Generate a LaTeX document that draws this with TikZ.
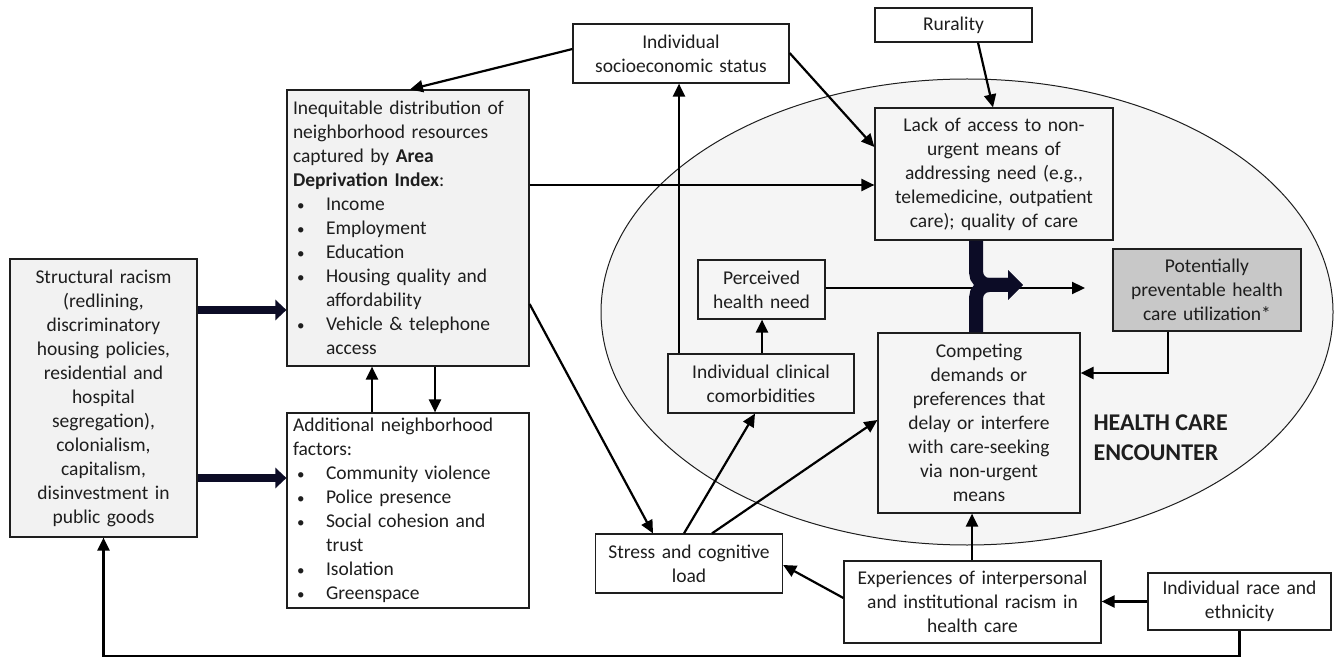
\documentclass[tikz,border=0pt]{standalone}
\usepackage{fontspec}
\setmainfont{Carlito}
\usepackage{tikz}
\usetikzlibrary{arrows.meta, calc}
\definecolor{mydark}{RGB}{30,30,30}
\definecolor{boxgray}{RGB}{242,242,242}
\definecolor{encfill}{RGB}{245,245,245}
\definecolor{ppugray}{RGB}{200,200,200}
\definecolor{navyblk}{RGB}{12,12,38}
\newcommand{\bodysize}{\fontsize{19.5}{24}\selectfont}
\newcommand{\itm}[1]{\makebox[33pt][l]{\hspace*{4pt}{\fontsize{15}{24}\selectfont\textbullet}}#1}
\newcommand{\itmc}[1]{\hspace*{33pt}#1}
\tikzset{
  box/.style={rectangle, draw=mydark, line width=1.2pt, text=mydark,
    font=\bodysize, align=center, inner xsep=5pt, inner ysep=2pt},
  listbox/.style={box, align=left},
  arrow/.style={-{Triangle[length=13pt,width=12pt]}, line width=2.2pt, color=black},
  line/.style={line width=2.2pt, color=black},
  fatarrow/.style={-{Triangle[length=11pt,width=20pt]}, line width=8pt, color=navyblk},
  mergearrow/.style={-{Triangle[length=15pt,width=29pt]}, line width=14pt,
    color=navyblk, rounded corners=13pt}
}

\begin{document}
\begin{tikzpicture}[x=1pt, y=-1pt]
  \useasboundingbox (0,0) rectangle (1341,660);

  % Encounter ellipse
  \draw[fill=encfill, draw=mydark, line width=1pt] (967,312) ellipse [x radius=366pt, y radius=233pt];
  \node[font=\fontsize{24}{30}\selectfont\bfseries, text=mydark, align=left, anchor=west] (enc) at (1090,438) {HEALTH CARE\\ENCOUNTER};

  % Left column
  \node[box, fill=boxgray, minimum width=187pt, minimum height=278pt, text width=175pt] (racism) at (103.5,398)
    {Structural racism\\(redlining,\\discriminatory\\housing policies,\\residential and\\hospital\\segregation),\\colonialism,\\capitalism,\\disinvestment in\\public goods};
  \node[listbox, fill=boxgray, minimum width=242pt, minimum height=276pt, text width=230pt] (adi) at (408,228)
    {Inequitable distribution of\\neighborhood resources\\captured by \textbf{Area}\\\textbf{Deprivation Index}:\\\itm{Income}\\\itm{Employment}\\\itm{Education}\\\itm{Housing quality and}\\\itmc{affordability}\\\itm{Vehicle \& telephone}\\\itmc{access}};
  \node[listbox, fill=white, minimum width=242pt, minimum height=195pt, text width=230pt] (addl) at (408,510.5)
    {Additional neighborhood\\factors:\\\itm{Community violence}\\\itm{Police presence}\\\itm{Social cohesion and}\\\itmc{trust}\\\itm{Isolation}\\\itm{Greenspace}};

  % Top row
  \node[box, fill=white, minimum width=216pt, minimum height=59pt, text width=204pt] (ses) at (681,53.5)
    {Individual\\socioeconomic status};
  \node[box, fill=white, minimum width=157pt, minimum height=34pt, text width=145pt] (rural) at (953.5,25) {Rurality};

  % Inside the encounter
  \node[box, fill=encfill, minimum width=238pt, minimum height=132pt, text width=226pt] (lack) at (994,174)
    {Lack of access to non-\\urgent means of\\addressing need (e.g.,\\telemedicine, outpatient\\care); quality of care};
  \node[box, fill=encfill, minimum width=127pt, minimum height=59pt, text width=117pt] (perc) at (761.5,289.5)
    {Perceived\\health need};
  \node[box, fill=ppugray, minimum width=188pt, minimum height=82pt, text width=176pt] (ppu) at (1207,290)
    {Potentially\\preventable health\\care utilization*};
  \node[box, fill=encfill, minimum width=186pt, minimum height=59pt, text width=174pt] (comorb) at (761,383.5)
    {Individual clinical\\comorbidities};
  \node[box, fill=encfill, minimum width=202pt, minimum height=180pt, text width=190pt] (compete) at (979,423)
    {Competing\\demands or\\preferences that\\delay or interfere\\with care-seeking\\via non-urgent\\means};

  % Bottom row
  \node[box, fill=white, minimum width=187pt, minimum height=59pt, text width=175pt] (stress) at (689,563.5)
    {Stress and cognitive\\load};
  \node[box, fill=white, minimum width=257pt, minimum height=82pt, text width=245pt] (exper) at (972.5,602)
    {Experiences of interpersonal\\and institutional racism in\\health care};
  \node[box, fill=white, minimum width=183pt, minimum height=57pt, text width=171pt] (race) at (1239.5,601.5)
    {Individual race and\\ethnicity};

  % Structural racism feeds the neighborhood
  \draw[fatarrow] (racism.east |- 0,310) -- (adi.west |- 0,310);
  \draw[fatarrow] (racism.east |- 0,478) -- (addl.west |- 0,478);
  \draw[arrow] (adi.south -| 435,0) -- (addl.north -| 435,0);
  \draw[arrow] (addl.north -| 372,0) -- (adi.south -| 372,0);

  % Socioeconomic status and access
  \draw[arrow] (ses.west |- 0,49) -- (adi.north -| 410,0);
  \draw[arrow] (adi.east |- 0,185) -- (lack.west |- 0,185);
  \draw[arrow] (ses.east |- 0,53) -- (lack.west |- 0,147);
  \draw[arrow] (rural.south -| 978,0) -- (lack.north -| 993,0);
  \draw[arrow] (comorb.north -| 679,0) -- (ses.south -| 679,0);
  \draw[arrow] (comorb.north -| 762,0) -- (perc.south -| 762,0);

  % Need and utilization
  \coordinate (ppuin) at (1085,288);
  \coordinate (mergetip) at (1023,285);
  \draw[arrow] (perc.east |- ppuin) -- (ppuin);
  \draw[mergearrow] (lack.south -| 976,0) |- (mergetip);
  \draw[mergearrow] (compete.north -| 976,0) |- (mergetip);
  \draw[arrow] (ppu.south -| 1168,0) |- (compete.east |- 0,373);

  % Stress paths
  \draw[arrow] (adi.east |- 0,304) -- (stress.north -| 653,0);
  \draw[arrow] (stress.north -| 684,0) -- (comorb.south -| 755,0);
  \draw[arrow] (stress.north -| 712,0) -- (compete.west |- 0,420);
  \draw[arrow] (exper.west |- 0,598) -- (stress.east |- 0,565);
  \draw[arrow] (exper.north -| 972,0) -- (compete.south -| 972,0);

  % Race
  \draw[arrow] (race.west) -- (exper.east |- race.west);
  \draw[arrow] (race.south) |- (racism.south |- 0,656) -- (racism.south);
\end{tikzpicture}
\end{document}
